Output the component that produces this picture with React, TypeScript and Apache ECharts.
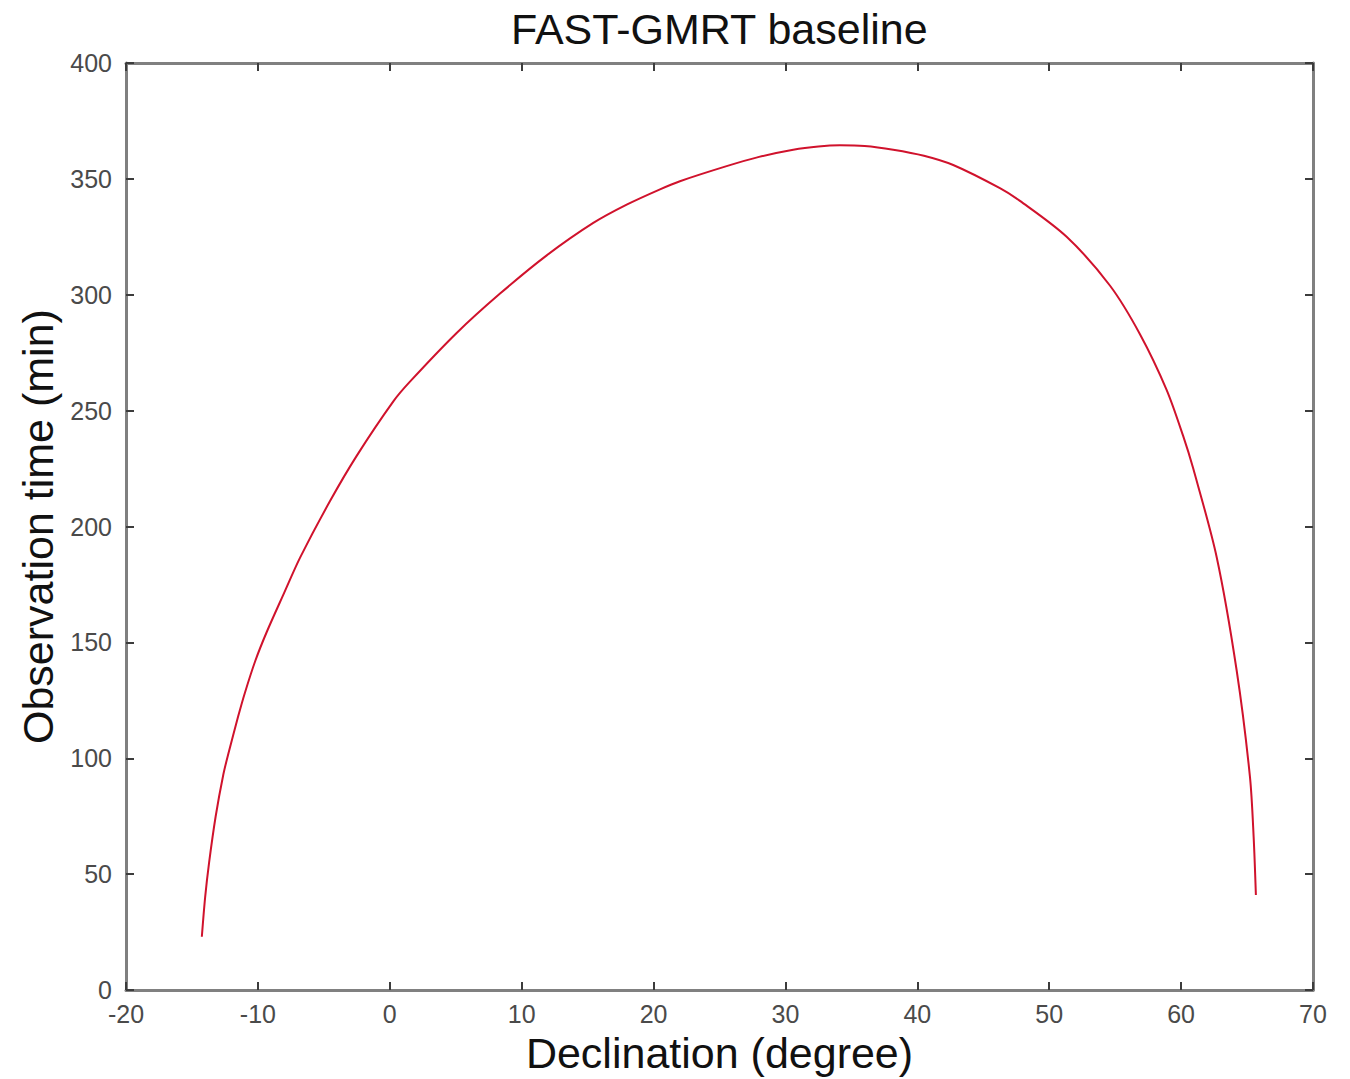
import React, { useEffect, useRef } from "react";
import * as echarts from "echarts";

const declination = [
  -14.25, -14.0, -13.7, -13.2, -12.62, -12.24, -11.5, -11.0, -10.2, -9.33,
  -8.0, -6.81, -4.53, -2.51, 0.27, 1.53, 5.07, 8.36, 11.9, 15.43, 18.0, 20.49,
  22.0, 25.54, 28.0, 30.59, 32.5, 34.13, 36.0, 38.17, 40.5, 42.72, 46.26,
  47.78, 51.32, 54.6, 56.88, 58.9, 60.16, 60.92, 62.69, 64.21, 65.22, 65.5, 65.67,
];
const obsTime = [
  23, 40, 55, 75, 93, 102, 118, 128, 142, 154.5,
  171.5, 186.5, 211, 230.5, 254, 262.5, 283.5, 300.5, 317, 331, 339, 345.5,
  349, 355.5, 359.5, 362.6, 364, 364.5, 364.2, 362.6, 360, 356, 346,
  340.5, 325, 304, 283, 259, 239, 225, 187, 138, 92, 66, 41,
];
const xTicks = { min: -20, max: 70, interval: 10 };
const yTicks = { min: 0, max: 400, interval: 50 };
const titleText = "FAST-GMRT baseline";
const xName = "Declination (degree)";
const yName = "Observation time (min)";

const FONT = "'Liberation Sans', Arial, Helvetica, sans-serif";
const AXIS_GRAY = "#808080";
const TICK = "#3c3c3c";

export default function App() {
  const ref = useRef<HTMLDivElement>(null);
  useEffect(() => {
    if (!ref.current) return;
    const chart = echarts.init(ref.current, undefined, { renderer: "svg" });
    const data = declination.map((d, i) => [d, obsTime[i]]);
    const axisLine = { show: true, onZero: false, lineStyle: { color: AXIS_GRAY, width: 3 } };
    const axisTick = { show: true, inside: true, length: 8, lineStyle: { color: TICK, width: 2 } };
    const label = { color: "#4a4a4a", fontSize: 25, fontFamily: FONT };
    chart.setOption({
      animation: false,
      backgroundColor: "#ffffff",
      title: {
        text: titleText,
        left: 506,
        top: 2,
        textStyle: { fontFamily: FONT, fontSize: 43, fontWeight: "normal", color: "#111" },
      },
      grid: { left: 126, top: 63, right: 37, bottom: 78, containLabel: false },
      xAxis: [
        {
          type: "value",
          ...xTicks,
          position: "bottom",
          name: xName,
          nameLocation: "middle",
          nameGap: 32,
          nameTextStyle: { fontFamily: FONT, fontSize: 43, color: "#111" },
          axisLine,
          axisTick,
          axisLabel: { ...label, margin: 11 },
          splitLine: { show: false },
        },
        {
          type: "value",
          ...xTicks,
          position: "top",
          axisLine,
          axisTick,
          axisLabel: { show: false },
          splitLine: { show: false },
        },
      ],
      yAxis: [
        {
          type: "value",
          ...yTicks,
          position: "left",
          name: yName,
          nameLocation: "middle",
          nameGap: 64,
          nameTextStyle: { fontFamily: FONT, fontSize: 43, color: "#111" },
          axisLine,
          axisTick,
          axisLabel: { ...label, margin: 14 },
          splitLine: { show: false },
        },
        {
          type: "value",
          ...yTicks,
          position: "right",
          axisLine,
          axisTick,
          axisLabel: { show: false },
          splitLine: { show: false },
        },
      ],
      series: [
        {
          type: "line",
          data,
          xAxisIndex: 0,
          yAxisIndex: 0,
          smooth: 0.3,
          symbol: "none",
          lineStyle: { color: "#d0122c", width: 2 },
        },
      ],
    });
    return () => chart.dispose();
  }, []);
  return (
    <div
      ref={ref}
      style={{ position: "fixed", left: 0, top: 0, width: 1350, height: 1079, background: "#fff" }}
    />
  );
}
